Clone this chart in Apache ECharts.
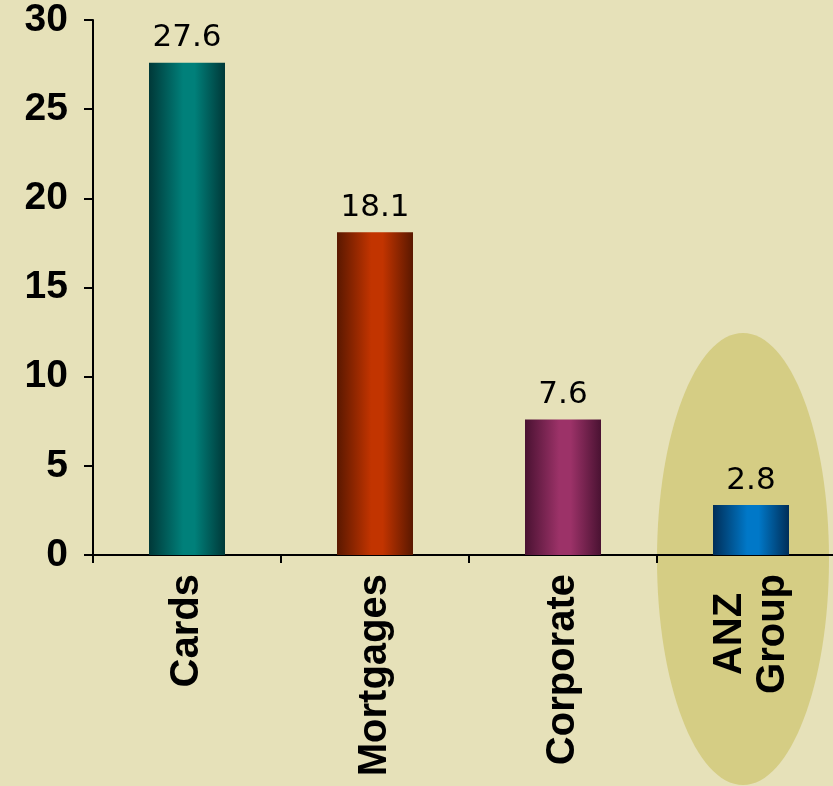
<!DOCTYPE html>
<html>
<head>
<meta charset="utf-8">
<script src="https://cdn.jsdelivr.net/npm/echarts@6/dist/echarts.min.js"></script>
<style>
html,body{margin:0;padding:0;background:#E6E1B9;}
#c{width:833px;height:786px;}
</style>
</head>
<body>
<div id="c"></div>
<script>
const categories = ['Cards', 'Mortgages', 'Corporate', 'ANZ\nGroup'];
const values = [27.6, 18.1, 7.6, 2.8];
const yTicks = [0, 5, 10, 15, 20, 25, 30];
const barEdge = ['#003838', '#5a1800', '#4a1232', '#002e58'];
const barMid = ['#00807a', '#c23400', '#9c3268', '#0078c8'];

function grad(i) {
  return new echarts.graphic.LinearGradient(0, 0, 1, 0, [
    {offset: 0, color: barEdge[i]},
    {offset: 0.45, color: barMid[i]},
    {offset: 0.6, color: barMid[i]},
    {offset: 1, color: barEdge[i]}
  ]);
}

const chart = echarts.init(document.getElementById('c'), null, {renderer: 'canvas'});
const option = {
  backgroundColor: '#E6E1B9',
  animation: false,
  grid: {left: 93, top: 20, height: 535, width: 752, containLabel: false, outerBoundsMode: 'none'},
  xAxis: {
    type: 'category',
    data: categories,
    boundaryGap: true,
    axisLine: {show: true, lineStyle: {color: '#000', width: 2}},
    axisTick: {show: true, length: 8, lineStyle: {color: '#000', width: 2}},
    axisLabel: {
      rotate: 90,
      margin: 19,
      interval: 0,
      formatter: function (v) {
        return v.split('\n').map(s => '{a|' + s + '}').join('\n');
      },
      rich: {
        a: {fontFamily: 'Liberation Sans', fontWeight: 'bold', fontSize: 40, color: '#000', align: 'center', lineHeight: 43}
      }
    }
  },
  yAxis: {
    type: 'value',
    min: yTicks[0],
    max: yTicks[yTicks.length - 1],
    interval: 5,
    splitLine: {show: false},
    axisLine: {show: true, lineStyle: {color: '#000', width: 2}},
    axisTick: {show: true, length: 9, lineStyle: {color: '#000', width: 2}},
    axisLabel: {
      margin: 25,
      fontFamily: 'Liberation Sans',
      fontWeight: 'bold',
      fontSize: 39,
      color: '#000'
    }
  },
  series: [{
    type: 'bar',
    barWidth: 76,
    z: 3,
    data: values.map((v, i) => ({value: v, itemStyle: {color: grad(i)}})),
    label: {
      show: true,
      position: 'top',
      distance: 9,
      fontFamily: 'DejaVu Sans',
      fontSize: 31,
      color: '#000',
      formatter: p => p.value.toFixed(1)
    }
  }]
};
chart.setOption(option);

const cx = chart.convertToPixel({xAxisIndex: 0}, 3) - 8;
const cy = chart.convertToPixel({yAxisIndex: 0}, 0) + 4;
chart.setOption({
  graphic: [{
    type: 'ellipse',
    z: -10,
    silent: true,
    shape: {cx: cx, cy: cy, rx: 86, ry: 226},
    style: {fill: '#D5CD84'}
  }]
});
</script>
</body>
</html>
